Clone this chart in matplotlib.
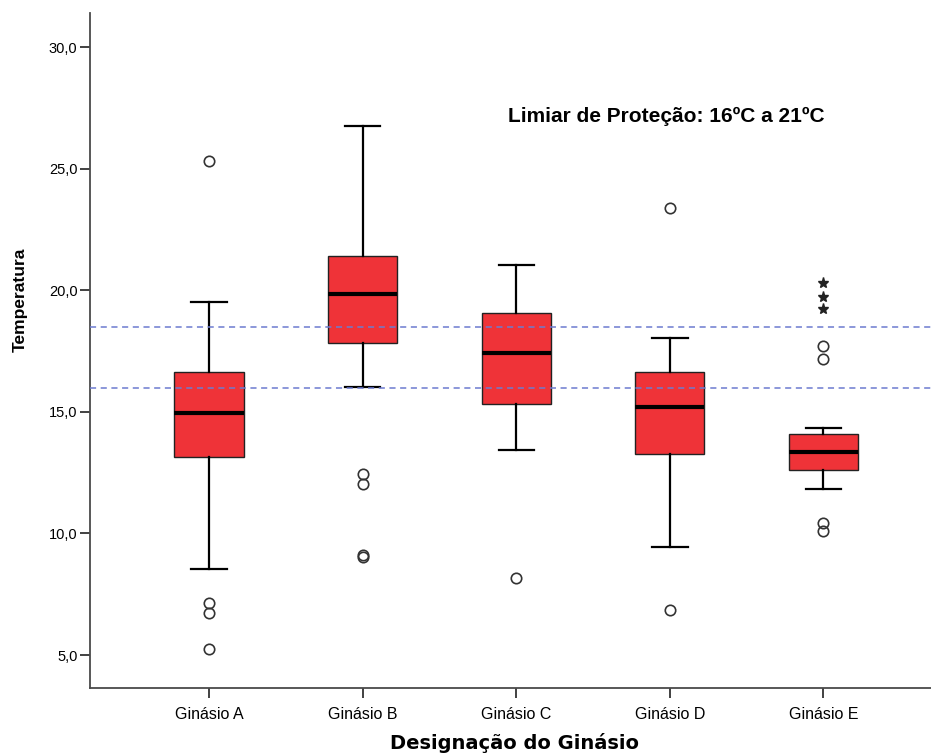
import matplotlib
matplotlib.use("Agg")
import matplotlib.pyplot as plt
from matplotlib.ticker import FuncFormatter

# values
groups = ['Ginásio A', 'Ginásio B', 'Ginásio C', 'Ginásio D', 'Ginásio E']
q1 = [13.15, 17.84, 15.33, 13.26, 12.62]
medians = [14.94, 19.85, 17.43, 15.20, 13.35]
q3 = [16.62, 21.42, 19.06, 16.62, 14.10]
whisk_lo = [8.54, 16.03, 13.43, 9.44, 11.84]
whisk_hi = [19.53, 26.75, 21.04, 18.02, 14.33]
outliers = [
    [25.33, 7.15, 6.74, 5.23],
    [12.43, 12.02, 9.11, 9.02],
    [8.15],
    [23.38, 6.85],
    [17.70, 17.16, 10.44, 10.11],
]
extremes_e = [20.28, 19.73, 19.21]   # stars above Ginásio E
thresholds = [16.0, 18.5]

stats = []
for i, name in enumerate(groups):
    stats.append({'label': name, 'q1': q1[i], 'med': medians[i], 'q3': q3[i],
                  'whislo': whisk_lo[i], 'whishi': whisk_hi[i], 'fliers': outliers[i]})

fig = plt.figure(figsize=(9.31, 7.56), dpi=100)
ax = fig.add_axes([90 / 931, 1 - 688 / 756, 1 - 90 / 931, 675 / 756])

pos = list(range(1, len(groups) + 1))
ax.bxp(stats, positions=pos, widths=0.45, capwidths=0.23, patch_artist=True,
       boxprops=dict(facecolor='#EF3338', edgecolor='#222222', linewidth=1.0),
       medianprops=dict(color='black', linewidth=3),
       whiskerprops=dict(color='black', linewidth=1.6),
       capprops=dict(color='black', linewidth=1.6),
       flierprops=dict(marker='o', markersize=7.5, markerfacecolor='none',
                       markeredgecolor='#333333', markeredgewidth=1.2))

ax.plot([5] * len(extremes_e), extremes_e, linestyle='none', marker='*',
        markersize=8, color='#222222')

for t in thresholds:
    ax.axhline(t, color='#6C7BD0', linestyle=(0, (4, 3)), linewidth=1.1, zorder=5)

ax.set_xlim(0.225, 5.70)
ax.set_ylim(3.643, 31.40)
ax.set_xticks(pos)
ax.set_xticklabels(groups, fontsize=11.5, family='Liberation Sans')
ax.set_yticks([5, 10, 15, 20, 25, 30])
ax.yaxis.set_major_formatter(FuncFormatter(lambda v, p: f'{v:.1f}'.replace('.', ',')))
for lab in ax.get_yticklabels():
    lab.set_fontsize(10.5)
    lab.set_family('Liberation Sans')

for s in ['top', 'right']:
    ax.spines[s].set_visible(False)
for s in ['left', 'bottom']:
    ax.spines[s].set_color('#4a4a4a')
    ax.spines[s].set_linewidth(1.3)
ax.tick_params(axis='y', direction='out', length=7, width=1.3, color='#333333', pad=2)
ax.tick_params(axis='x', direction='out', length=7, width=1.3, color='#333333', pad=7)

ax.set_ylabel('Temperatura', fontsize=12.5, fontweight='bold', family='Liberation Sans')
ax.yaxis.set_label_coords(-0.074, 0.575)
ax.set_xlabel('Designação do Ginásio', fontsize=14, fontweight='bold', family='DejaVu Sans')
ax.xaxis.set_label_coords(0.505, -0.067)

ax.text(3.98, 27.16, 'Limiar de Proteção: 16ºC a 21ºC', ha='center', va='center',
        fontsize=15, fontweight='bold', family='Liberation Sans')

fig.savefig('out.png', dpi=100)
